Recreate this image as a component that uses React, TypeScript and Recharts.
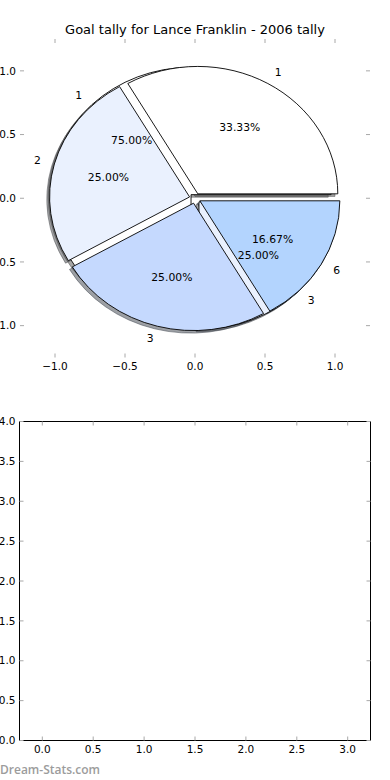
import React from 'react';
import { PieChart, Pie, ScatterChart, Scatter, XAxis, YAxis } from 'recharts';

const chartTitle = 'Goal tally for Lance Franklin - 2006 tally';
const watermarkText = 'Dream-Stats.com';

// first pie (drawn underneath)
const underLabels = ['1', '3'];
const underValues = [3, 1];
const underExplode = [0.04, 0.04];

// second pie (drawn on top)
const overLabels = ['1', '2', '3', '6'];
const overValues = [4, 3, 3, 2];
const overExplode = [0.04, 0.04, 0.04, 0.04];

const pieColors = ['#ffffff', '#eaf1fe', '#c5d9fe', '#b3d4fe'];

const pieAxisTicks = [-1, -0.5, 0, 0.5, 1];
const emptyXTicks = [0, 0.5, 1, 1.5, 2, 2.5, 3];
const emptyYTicks = [0, 0.5, 1, 1.5, 2, 2.5, 3, 3.5, 4];

const FONT = '"DejaVu Sans", Verdana, sans-serif';
const W = 390;
const TOP_H = 380;
const TOP_MARGIN = { top: 38, right: 19, bottom: 2.5, left: 0 };
const PIE_LIM = 1.25;
const PLOT_W = 350;
const PLOT_H = TOP_H - 39 - TOP_MARGIN.bottom - 20;
const RX = PLOT_W / (2 * PIE_LIM);
const RY = PLOT_H / (2 * PIE_LIM);
const PIE_CX = 20 + PLOT_W / 2;
const PIE_CY = 39 + PLOT_H / 2;
const RAD = Math.PI / 180;

const underData = underValues.map((v, i) => ({ name: underLabels[i], value: v, idx: i }));
const overData = overValues.map((v, i) => ({ name: overLabels[i], value: v, idx: i }));

const fmt = (v: number) => (v < 0 ? '\u2212' + Math.abs(v).toFixed(1) : v.toFixed(1));

function shadowOf(hex: string) {
  const n = parseInt(hex.slice(1), 16);
  const r = Math.round(((n >> 16) & 255) * 0.3);
  const g = Math.round(((n >> 8) & 255) * 0.3);
  const b = Math.round((n & 255) * 0.3);
  return `rgb(${r},${g},${b})`;
}

function wedgePath(cx: number, cy: number, start: number, end: number) {
  const p = (a: number) => [cx + RX * Math.cos(a * RAD), cy - RY * Math.sin(a * RAD)];
  const [x0, y0] = p(start);
  const [x1, y1] = p(end);
  const large = Math.abs(end - start) > 180 ? 1 : 0;
  return `M${cx},${cy} L${x0},${y0} A${RX},${RY} 0 ${large} 0 ${x1},${y1} Z`;
}

const getIdx = (props: any) => (props.idx ?? props.payload?.idx ?? props.index ?? 0) as number;

const makeShape = (explode: number[], mode: 'shadow' | 'wedge' | 'none') => (props: any) => {
  if (mode === 'none') return <g />;
  const { cx, cy, startAngle, endAngle, midAngle } = props;
  const idx = getIdx(props);
  const e = explode[idx] || 0;
  let ox = cx + e * RX * Math.cos(midAngle * RAD);
  let oy = cy - e * RY * Math.sin(midAngle * RAD);
  const color = pieColors[idx % pieColors.length];
  if (mode === 'shadow') {
    ox += -0.02 * RX;
    oy += 0.02 * RY;
    return (
      <path
        d={wedgePath(ox, oy, startAngle, endAngle)}
        fill={shadowOf(color)}
        stroke={shadowOf(color)}
        fillOpacity={0.5}
        strokeOpacity={0.5}
      />
    );
  }
  return <path d={wedgePath(ox, oy, startAngle, endAngle)} fill={color} stroke="#000" strokeWidth={0.9} strokeLinejoin="round" />;
};

const makeLabel = (explode: number[], labels: string[]) => (props: any) => {
  const { cx, cy, midAngle, percent } = props;
  const idx = getIdx(props);
  const e = explode[idx] || 0;
  const c = Math.cos(midAngle * RAD);
  const s = Math.sin(midAngle * RAD);
  const lx = cx + (1.1 + e) * RX * c;
  const ly = cy - (1.1 + e) * RY * s;
  const px = cx + (0.6 + e) * RX * c;
  const py = cy - (0.6 + e) * RY * s;
  return (
    <g>
      <text x={lx} y={ly} textAnchor={c > 0 ? 'start' : 'end'} dominantBaseline="central" fontFamily={FONT} fontSize={10.8} fill="#000">
        {labels[idx]}
      </text>
      <text x={px} y={py} textAnchor="middle" dominantBaseline="central" fontFamily={FONT} fontSize={10.8} fill="#000">
        {(percent * 100).toFixed(2) + '%'}
      </text>
    </g>
  );
};

const tickStyle = { fill: '#000', fontSize: 10.5, fontFamily: FONT };
const tickLineStyle = { stroke: '#a8a8a8', strokeWidth: 1 };
const noTick = () => <g />;

export default function App() {
  return (
    <div style={{ position: 'absolute', left: 0, top: 0, width: W, height: 780, background: '#fff', fontFamily: FONT }}>
      <div style={{ position: 'absolute', left: 0, top: 21, width: W, textAlign: 'center', fontSize: 13, lineHeight: '18px', color: '#000' }}>
        {chartTitle}
      </div>

      <div style={{ position: 'absolute', left: 0, top: 0 }}>
        <ScatterChart width={W} height={TOP_H} margin={TOP_MARGIN}>
          <XAxis xAxisId="b" type="number" dataKey="x" domain={[-PIE_LIM, PIE_LIM]} ticks={pieAxisTicks} allowDataOverflow interval={0}
            axisLine={false} tickLine={tickLineStyle} tickSize={-4} tickMargin={9} height={20} tick={tickStyle} tickFormatter={fmt} />
          <XAxis xAxisId="t" orientation="top" type="number" dataKey="x" domain={[-PIE_LIM, PIE_LIM]} ticks={pieAxisTicks} allowDataOverflow interval={0}
            axisLine={false} tickLine={tickLineStyle} tickSize={-4} height={1} tick={noTick} />
          <YAxis yAxisId="l" type="number" dataKey="y" domain={[-PIE_LIM, PIE_LIM]} ticks={pieAxisTicks} allowDataOverflow interval={0}
            axisLine={false} tickLine={tickLineStyle} tickSize={-4} tickMargin={8} width={20} tick={tickStyle} tickFormatter={fmt} />
          <YAxis yAxisId="r" orientation="right" type="number" dataKey="y" domain={[-PIE_LIM, PIE_LIM]} ticks={pieAxisTicks} allowDataOverflow interval={0}
            axisLine={false} tickLine={tickLineStyle} tickSize={-4} width={1} tick={noTick} />
          <Scatter xAxisId="b" yAxisId="l" data={[]} isAnimationActive={false} />
          <Scatter xAxisId="t" yAxisId="r" data={[]} isAnimationActive={false} />
        </ScatterChart>
      </div>

      <div style={{ position: 'absolute', left: 0, top: 0 }}>
        <PieChart width={W} height={TOP_H} margin={{ top: 0, right: 0, bottom: 0, left: 0 }}>
          <Pie data={underData} dataKey="value" nameKey="name" cx={PIE_CX} cy={PIE_CY} outerRadius={RX} startAngle={0} endAngle={360}
            isAnimationActive={false} shape={makeShape(underExplode, 'shadow')} label={false} labelLine={false} />
          <Pie data={overData} dataKey="value" nameKey="name" cx={PIE_CX} cy={PIE_CY} outerRadius={RX} startAngle={0} endAngle={360}
            isAnimationActive={false} shape={makeShape(overExplode, 'shadow')} label={false} labelLine={false} />
          <Pie data={underData} dataKey="value" nameKey="name" cx={PIE_CX} cy={PIE_CY} outerRadius={RX} startAngle={0} endAngle={360}
            isAnimationActive={false} shape={makeShape(underExplode, 'wedge')} label={false} labelLine={false} />
          <Pie data={overData} dataKey="value" nameKey="name" cx={PIE_CX} cy={PIE_CY} outerRadius={RX} startAngle={0} endAngle={360}
            isAnimationActive={false} shape={makeShape(overExplode, 'wedge')} label={false} labelLine={false} />
          <Pie data={underData} dataKey="value" nameKey="name" cx={PIE_CX} cy={PIE_CY} outerRadius={RX} startAngle={0} endAngle={360}
            isAnimationActive={false} shape={makeShape(underExplode, 'none')} label={makeLabel(underExplode, underLabels)} labelLine={false} />
          <Pie data={overData} dataKey="value" nameKey="name" cx={PIE_CX} cy={PIE_CY} outerRadius={RX} startAngle={0} endAngle={360}
            isAnimationActive={false} shape={makeShape(overExplode, 'none')} label={makeLabel(overExplode, overLabels)} labelLine={false} />
        </PieChart>
      </div>

      <div style={{ position: 'absolute', left: 0, top: 400 }}>
        <ScatterChart width={W} height={380} margin={{ top: 20.5, right: 18.5, bottom: 19.5, left: 0 }}>
          <XAxis xAxisId="b" type="number" dataKey="x" domain={[-0.224, 3.224]} ticks={emptyXTicks} allowDataOverflow interval={0}
            axisLine={{ stroke: '#000' }} tickLine={tickLineStyle} tickSize={-4} tickMargin={9} height={20} tick={tickStyle} tickFormatter={fmt} />
          <XAxis xAxisId="t" orientation="top" type="number" dataKey="x" domain={[-0.224, 3.224]} ticks={emptyXTicks} allowDataOverflow interval={0}
            axisLine={{ stroke: '#000' }} tickLine={tickLineStyle} tickSize={-4} height={1} tick={noTick} />
          <YAxis yAxisId="l" type="number" dataKey="y" domain={[0, 4]} ticks={emptyYTicks} allowDataOverflow interval={0}
            axisLine={{ stroke: '#000' }} tickLine={tickLineStyle} tickSize={-4} tickMargin={8} width={19.5} tick={tickStyle} tickFormatter={fmt} />
          <YAxis yAxisId="r" orientation="right" type="number" dataKey="y" domain={[0, 4]} ticks={emptyYTicks} allowDataOverflow interval={0}
            axisLine={{ stroke: '#000' }} tickLine={tickLineStyle} tickSize={-4} width={1} tick={noTick} />
          <Scatter xAxisId="b" yAxisId="l" data={[]} isAnimationActive={false} />
          <Scatter xAxisId="t" yAxisId="r" data={[]} isAnimationActive={false} />
        </ScatterChart>
      </div>

      <div style={{ position: 'absolute', left: 0, top: 762, fontFamily: '"Open Sans", sans-serif', fontWeight: 600, fontSize: 12, lineHeight: '16px', color: '#9c9c9c' }}>
        {watermarkText}
      </div>
    </div>
  );
}
